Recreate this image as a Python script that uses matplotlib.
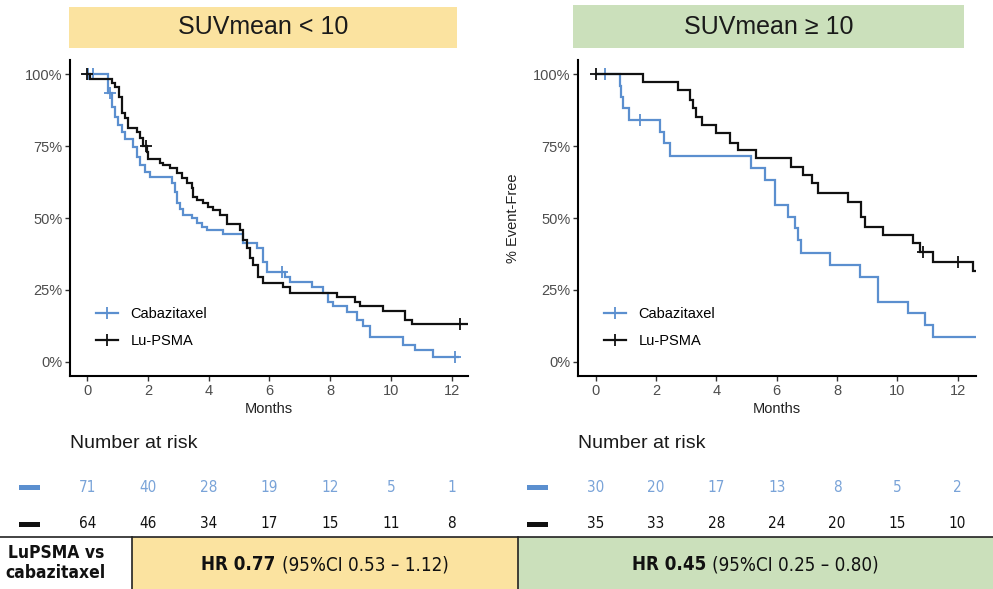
import numpy as np
import matplotlib
matplotlib.use("Agg")
from matplotlib import pyplot as plt
from matplotlib.patches import Rectangle
from matplotlib.lines import Line2D
from matplotlib.transforms import blended_transform_factory

plt.rcParams['font.family'] = ['Liberation Sans', 'DejaVu Sans']
NARROW = dict(family='DejaVu Sans', fontstretch='condensed')

# ---- data ----
groups = ['SUVmean < 10', 'SUVmean \u2265 10']
arms = ['Cabazitaxel', 'Lu-PSMA']

# SUVmean < 10
low_cab_t = [0, 0.69, 0.80, 0.91, 1.02, 1.13, 1.24, 1.52, 1.63, 1.74, 1.90, 2.06, 2.78, 2.89, 2.94,
             3.05, 3.16, 3.44, 3.60, 3.77, 3.93, 4.48, 5.14, 5.58, 5.80, 5.91, 6.51, 6.67, 7.39, 7.77,
             7.94, 8.10, 8.54, 8.87, 9.09, 9.31, 10.41, 10.79, 11.39, 12.2]
low_cab_s = [1.0, 0.933, 0.887, 0.852, 0.823, 0.800, 0.773, 0.748, 0.713, 0.684, 0.661, 0.643, 0.620,
             0.591, 0.551, 0.530, 0.510, 0.499, 0.484, 0.470, 0.458, 0.443, 0.412, 0.395, 0.348, 0.314,
             0.296, 0.279, 0.259, 0.238, 0.209, 0.194, 0.175, 0.146, 0.125, 0.088, 0.059, 0.042, 0.018, 0.018]
low_cab_cens = [0.03, 0.18, 0.75, 6.40, 12.11]

low_lu_t = [0, 0.10, 0.80, 0.91, 1.05, 1.13, 1.24, 1.35, 1.63, 1.74, 1.84, 1.95, 2.01, 2.39, 2.50,
            2.72, 2.94, 3.11, 3.27, 3.44, 3.49, 3.60, 3.82, 3.98, 4.15, 4.37, 4.59, 5.03, 5.14, 5.25,
            5.36, 5.47, 5.63, 5.80, 6.45, 6.67, 8.21, 8.81, 8.98, 9.75, 10.46, 10.68, 12.7]
low_lu_s = [1.0, 0.984, 0.970, 0.954, 0.921, 0.864, 0.846, 0.814, 0.800, 0.777, 0.751, 0.730, 0.704,
            0.692, 0.684, 0.672, 0.655, 0.638, 0.620, 0.603, 0.574, 0.5625, 0.551, 0.539, 0.528, 0.510,
            0.479, 0.458, 0.424, 0.395, 0.360, 0.337, 0.296, 0.273, 0.259, 0.241, 0.227, 0.209, 0.194,
            0.178, 0.146, 0.132, 0.132]
low_lu_cens = [0.0, 1.92, 12.27]

# SUVmean >= 10
high_cab_t = [0, 0.80, 0.84, 0.90, 1.10, 2.12, 2.25, 2.46, 5.14, 5.61, 5.94, 6.38, 6.60, 6.71, 6.82,
              7.76, 8.76, 9.37, 10.36, 10.92, 11.19, 12.7]
high_cab_s = [1.0, 0.958, 0.921, 0.881, 0.840, 0.800, 0.759, 0.715, 0.672, 0.632, 0.545, 0.505, 0.464,
              0.424, 0.377, 0.337, 0.296, 0.209, 0.169, 0.128, 0.086, 0.086]
high_cab_cens = [0.30, 1.46]

high_lu_t = [0, 1.57, 2.73, 3.12, 3.23, 3.34, 3.51, 4.00, 4.45, 4.72, 5.33, 6.49, 6.88, 7.16, 7.38,
             8.37, 8.81, 8.92, 9.53, 10.53, 10.75, 11.19, 12.52, 12.7]
high_lu_s = [1.0, 0.973, 0.944, 0.910, 0.881, 0.852, 0.823, 0.794, 0.762, 0.736, 0.707, 0.678, 0.649,
             0.620, 0.588, 0.557, 0.505, 0.470, 0.441, 0.412, 0.383, 0.348, 0.317, 0.317]
high_lu_cens = [0.0, 10.86, 12.0]

risk_times = [0, 2, 4, 6, 8, 10, 12]
low_cab_risk = [71, 40, 28, 19, 12, 5, 1]
low_lu_risk = [64, 46, 34, 17, 15, 11, 8]
high_cab_risk = [30, 20, 17, 13, 8, 5, 2]
high_lu_risk = [35, 33, 28, 24, 20, 15, 10]

hr_label = 'LuPSMA vs\ncabazitaxel'
hr_values = ['0.77', '0.45']
hr_ci = ['(95%CI 0.53 \u2013 1.12)', '(95%CI 0.25 \u2013 0.80)']

# ---- style ----
BLUE = '#5b8fcf'
BLUE_TXT = '#79a3d8'
BLACK = '#111111'
YELLOW = '#fbe3a0'
GREEN = '#cbe0bb'
W, H = 993, 589


def px(x0, y0, x1, y1):
    """pixel box -> figure fraction rect"""
    return (x0 / W, 1 - y1 / H, (x1 - x0) / W, (y1 - y0) / H)


def surv_at(times, surv, t):
    i = np.searchsorted(times, t, side='right') - 1
    return np.array(surv)[i]


fig = plt.figure(figsize=(9.93, 5.89), dpi=100)

panels = [
    dict(box=(69, 7, 457, 48), color=YELLOW, ax=(70, 60, 468, 376), xlim=(-0.57, 12.54),
         cab=(low_cab_t, low_cab_s, low_cab_cens), lu=(low_lu_t, low_lu_s, low_lu_cens),
         risk=(low_cab_risk, low_lu_risk), bars_x=19, ylabel=False),
    dict(box=(573, 5, 964, 48), color=GREEN, ax=(578, 60, 976, 376), xlim=(-0.59, 12.61),
         cab=(high_cab_t, high_cab_s, high_cab_cens), lu=(high_lu_t, high_lu_s, high_lu_cens),
         risk=(high_cab_risk, high_lu_risk), bars_x=527, ylabel=True),
]

for g, p in enumerate(panels):
    # header box
    bx = px(*p['box'])
    fig.patches.append(Rectangle(bx[:2], bx[2], bx[3], transform=fig.transFigure,
                                 facecolor=p['color'], edgecolor='none', zorder=0))
    fig.text(bx[0] + bx[2] / 2, bx[1] + bx[3] / 2, groups[g], ha='center', va='center',
             fontsize=18, color='#1a1a1a')

    ax = fig.add_axes(px(*p['ax']))
    for (t, s, cens), col in zip([p['cab'], p['lu']], [BLUE, BLACK]):
        ax.step(t, s, where='post', color=col, lw=1.6, solid_joinstyle='miter')
        ax.plot(cens, surv_at(t, s, cens), ls='none', marker='+', ms=8, mew=1.3, color=col)

    ax.set_xlim(*p['xlim'])
    ax.set_ylim(-0.049, 1.049)
    ax.set_xticks(risk_times)
    ax.set_yticks([0, 0.25, 0.5, 0.75, 1.0])
    ax.set_yticklabels(['0%', '25%', '50%', '75%', '100%'])
    for side in ['top', 'right']:
        ax.spines[side].set_visible(False)
    for side in ['left', 'bottom']:
        ax.spines[side].set_linewidth(1.5)
        ax.spines[side].set_color('black')
    ax.tick_params(length=3.5, width=1.0, color='#333333', labelsize=10.5, labelcolor='#4d4d4d', pad=2)
    ax.set_xlabel('Months', fontsize=10.5, color='#222222', labelpad=3)
    if p['ylabel']:
        ax.set_ylabel('% Event-Free', fontsize=10.5, color='#222222', labelpad=9)

    handles = [Line2D([], [], color=BLUE, lw=1.6, marker='+', ms=8, mew=1.3),
               Line2D([], [], color=BLACK, lw=1.6, marker='+', ms=8, mew=1.3)]
    ax.legend(handles, arms, loc='lower left', bbox_to_anchor=(0.05, 0.069), frameon=False,
              fontsize=10.5, handlelength=1.5, handletextpad=0.9, labelspacing=0.92,
              borderaxespad=0)

    # number at risk
    tr = blended_transform_factory(ax.transData, fig.transFigure)
    fig.text(p['ax'][0] / W, 1 - 444 / H, 'Number at risk', ha='left', va='center',
             fontsize=14, color='#1a1a1a')
    for row, (vals, tcol, bcol, yy) in enumerate(zip(p['risk'], [BLUE_TXT, BLACK], [BLUE, BLACK],
                                                   [487, 524])):
        r = px(p['bars_x'], yy - 2.5, p['bars_x'] + 21, yy + 2.5)
        fig.patches.append(Rectangle(r[:2], r[2], r[3], transform=fig.transFigure,
                                     facecolor=bcol, edgecolor='none'))
        for tt, v in zip(risk_times, vals):
            fig.text(tt, 1 - yy / H, str(v), transform=tr, ha='center', va='center',
                     fontsize=11, color=tcol, **NARROW)

# ---- HR table ----
top = 537
for x0, x1, col in [(132, 518, YELLOW), (518, W, GREEN)]:
    r = px(x0, top, x1, H)
    fig.patches.append(Rectangle(r[:2], r[2], r[3], transform=fig.transFigure,
                                 facecolor=col, edgecolor='none', zorder=0))
fig.add_artist(Line2D([0, 1], [1 - top / H] * 2, transform=fig.transFigure, color='#222222', lw=1.2))
for xv in [132, 518]:
    fig.add_artist(Line2D([xv / W] * 2, [0, 1 - top / H], transform=fig.transFigure,
                          color='#222222', lw=1.2))
fig.text(106 / W, 1 - 563 / H, hr_label, ha='right', va='center', multialignment='center',
         fontsize=12.5, fontweight='bold', linespacing=1.15, color='#111111', **NARROW)

for (x0, x1), hv, ci in zip([(132, 518), (518, W)], hr_values, hr_ci):
    cx = (x0 + x1) / 2 / W
    cy = 1 - 565 / H
    t1 = fig.text(cx, cy, 'HR ' + hv + ' ', ha='right', va='center', fontsize=13.5,
                  fontweight='bold', color='#111111', **NARROW)
    t2 = fig.text(cx, cy, ci, ha='left', va='center', fontsize=13.5, color='#111111', **NARROW)
    # shift pair so that the whole string is centred in its cell
    fig.canvas.draw()
    r = fig.canvas.get_renderer()
    w1 = t1.get_window_extent(r).width / W
    w2 = t2.get_window_extent(r).width / W
    shift = (w1 - w2) / 2
    t1.set_x(cx + shift)
    t2.set_x(cx + shift)

fig.savefig('out.png', dpi=100)
